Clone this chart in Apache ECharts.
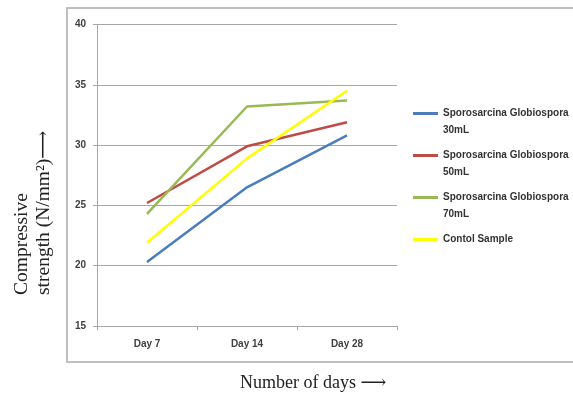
<!DOCTYPE html>
<html><head><meta charset="utf-8">
<script src="https://cdn.jsdelivr.net/npm/echarts@6/dist/echarts.min.js"></script>
<style>html,body{margin:0;padding:0;background:#fff}#c{width:573px;height:394px}</style>
</head><body><div id="c"></div>
<script>
const categories = ['Day 7', 'Day 14', 'Day 28'];
const seriesNames = ['Sporosarcina Globiospora 30mL', 'Sporosarcina Globiospora 50mL', 'Sporosarcina Globiospora 70mL', 'Contol Sample'];
const legendLabels = ['\nSporosarcina Globiospora\n30mL', '\nSporosarcina Globiospora\n50mL', '\nSporosarcina Globiospora\n70mL', '\nContol Sample\n '];
const s30 = [20.3, 26.5, 30.8];
const s50 = [25.2, 29.9, 31.9];
const s70 = [24.3, 33.2, 33.7];
const control = [21.9, 28.9, 34.5];
const yTicks = {min: 15, max: 40, interval: 5};
const colors = ['#4a7ebb', '#be4b48', '#98b954', '#ffff00'];
const allValues = [s30, s50, s70, control];

const chart = echarts.init(document.getElementById('c'), null, {renderer: 'canvas'});
const labelFont = {fontFamily: 'Liberation Sans', fontSize: 10, fontWeight: 'bold', color: '#404040'};
chart.setOption({
  animation: false,
  grid: {left: 97, right: 176, top: 24.5, bottom: 68},
  xAxis: {
    type: 'category', data: categories, boundaryGap: true,
    axisLine: {lineStyle: {color: '#a6a6a6', width: 1}},
    axisTick: {show: true, length: 4, lineStyle: {color: '#a6a6a6'}},
    axisLabel: Object.assign({margin: 13}, labelFont)
  },
  yAxis: {
    type: 'value', min: yTicks.min, max: yTicks.max, interval: yTicks.interval,
    axisLine: {show: true, lineStyle: {color: '#a6a6a6', width: 1}},
    axisTick: {show: true, length: 4, lineStyle: {color: '#a6a6a6'}},
    splitLine: {lineStyle: {color: '#a6a6a6', width: 1}},
    axisLabel: Object.assign({margin: 11}, labelFont)
  },
  legend: {
    orient: 'vertical', left: 413, top: 88, padding: 0,
    itemWidth: 25, itemHeight: 3, itemGap: -9, icon: 'rect',
    data: seriesNames,
    formatter: function (n) { return legendLabels[seriesNames.indexOf(n)]; },
    textStyle: {fontFamily: 'Liberation Sans', fontSize: 10, fontWeight: 'bold', color: '#333', lineHeight: 17}
  },
  series: seriesNames.map((n, i) => ({
    name: n, type: 'line', data: allValues[i], symbol: 'none',
    lineStyle: {color: colors[i], width: 2.5}, itemStyle: {color: colors[i]}
  })),
  graphic: [
    {type: 'rect', shape: {x: 67, y: 8, width: 510, height: 354}, style: {fill: 'none', stroke: '#bfbfbf', lineWidth: 2}, silent: true},
    {type: 'text', x: 11, y: 295, rotation: Math.PI / 2,
     style: {text: 'Compressive\nstrength (N/mm\u00B2)\u27F6', fontFamily: 'Liberation Serif, DejaVu Serif', fontSize: 19.5, lineHeight: 22, fill: '#222', align: 'left', verticalAlign: 'top'}},
    {type: 'text', x: 240, y: 383,
     style: {text: 'Number of days \u27F6', fontFamily: 'Liberation Serif, DejaVu Serif', fontSize: 18, fill: '#222', align: 'left', verticalAlign: 'middle'}}
  ]
});
</script></body></html>
